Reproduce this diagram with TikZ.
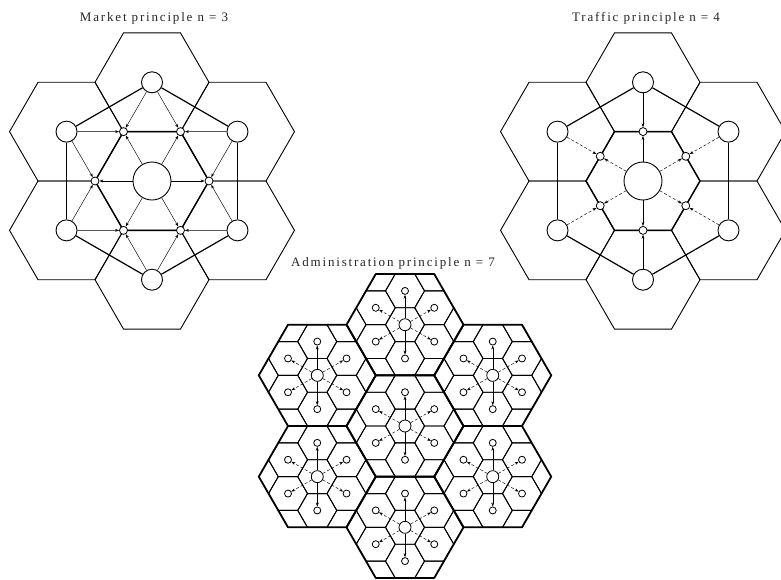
\documentclass[tikz,border=0pt]{standalone}
\usepackage{fontspec}
\setmainfont{Liberation Serif}
\newfontfamily\headfont[LetterSpace=14]{Liberation Serif}
\usetikzlibrary{arrows.meta,backgrounds}

\newcommand{\hexcell}[3][]{\draw[#1] (#2) ++(0:#3) -- ++(120:#3) -- ++(180:#3) -- ++(240:#3) -- ++(300:#3) -- ++(0:#3) -- cycle;}
\newcommand{\hexpath}[2]{(#1) ++(0:#2) -- ++(120:#2) -- ++(180:#2) -- ++(240:#2) -- ++(300:#2) -- ++(0:#2) -- cycle}

\tikzset{
  place/.style={circle,draw,fill=white,inner sep=0pt,line width=0.9pt},
  bigplace/.style={place,minimum size=38pt},
  midplace/.style={place,minimum size=21pt},
  smallplace/.style={place,minimum size=8pt,line width=0.8pt},
  hubplace/.style={place,minimum size=12pt,line width=0.8pt},
  dotplace/.style={place,minimum size=7pt,line width=0.8pt},
  cell/.style={line width=0.9pt},
  corecell/.style={line width=1.4pt},
  road/.style={line width=1.2pt},
  admcell/.style={line width=0.9pt},
  admbound/.style={line width=1.8pt,line join=round},
  flow/.style={line width=0.45pt,-{Stealth[length=4pt,width=2.8pt]}},
  caption/.style={font={\headfont\fontsize{13}{15}\selectfont},text=black!85}
}

\begin{document}
\begin{tikzpicture}[x=1pt,y=-1pt]
  \useasboundingbox (0,0) rectangle (781,579);

  % market principle
  \node[caption] (mcap) at (154,18) {Market principle n = 3};
  \node[bigplace] (M) at (152,181) {};
  \foreach \k in {1,...,6}{
    \path (M.center) ++({60*\k-30}:98.7) node[midplace] (M\k) {};
    \path (M.center) ++({60*\k}:57) node[smallplace] (Ms\k) {};
  }
  \begin{scope}[on background layer]
    \foreach \k in {1,...,6} {\hexcell[cell]{M\k.center}{57}}
    \hexcell[corecell]{M.center}{57}
  \end{scope}
  \foreach \k [evaluate=\k as \n using {int(mod(\k,6)+1)},
               evaluate=\k as \p using {int(mod(\k+4,6)+1)}] in {1,...,6}{
    \draw[road] (M\k) -- (M\n);
    \draw[flow] (M\k) -- (Ms\k);
    \draw[flow] (M\k) -- (Ms\p);
    \draw[flow] (M) -- (Ms\k);
  }

  % traffic principle
  \node[caption] (tcap) at (646,18) {Traffic principle n = 4};
  \node[bigplace] (T) at (643,181) {};
  \foreach \k in {1,...,6}{
    \path (T.center) ++({60*\k-30}:98.7) node[midplace] (T\k) {};
    \path (T.center) ++({60*\k-30}:49.4) node[smallplace] (Ts\k) {};
  }
  \begin{scope}[on background layer]
    \foreach \k in {1,...,6} {\hexcell[cell]{T\k.center}{57}}
    \hexcell[corecell]{T.center}{57}
  \end{scope}
  \foreach \k/\s [evaluate=\k as \n using {int(mod(\k,6)+1)}]
      in {1/densely dashed,2/solid,3/densely dashed,4/densely dashed,5/solid,6/densely dashed}{
    \draw[road] (T\k) -- (T\n);
    \draw[flow,\s] (T\k) -- (Ts\k);
    \draw[flow,\s] (T) -- (Ts\k);
  }

  % administration principle
  \node[caption] (acap) at (393,263) {Administration principle n = 7};
  \node[hubplace] (A0) at (405,426) {};
  \foreach \g in {1,...,6}
    \path (A0.center) ++({60*\g-30}:101.3) node[hubplace] (A\g) {};
  \foreach \g in {0,...,6}
    \foreach \k in {1,...,6}
      \path (A\g.center) ++({60*\k-30}:33.8) node[dotplace] (A\g-\k) {};
  \begin{scope}[on background layer]
    \begin{scope}
      \clip \hexpath{A0.center}{58.5} \hexpath{A1.center}{58.5}
            \hexpath{A2.center}{58.5} \hexpath{A3.center}{58.5}
            \hexpath{A4.center}{58.5} \hexpath{A5.center}{58.5}
            \hexpath{A6.center}{58.5};
      \foreach \i in {-6,...,6}
        \foreach \j in {-8,...,8}
          {\hexcell[admcell]{{405+29.25*\i},{426+16.8875*\i+33.775*\j}}{19.5}}
    \end{scope}
    \foreach \g in {0,...,6} {\hexcell[admbound]{A\g.center}{58.5}}
  \end{scope}
  \foreach \g in {0,...,6}
    \foreach \k/\s in {1/densely dashed,2/solid,3/densely dashed,4/densely dashed,5/solid,6/densely dashed}
      \draw[flow,\s] (A\g) -- (A\g-\k);
\end{tikzpicture}
\end{document}
